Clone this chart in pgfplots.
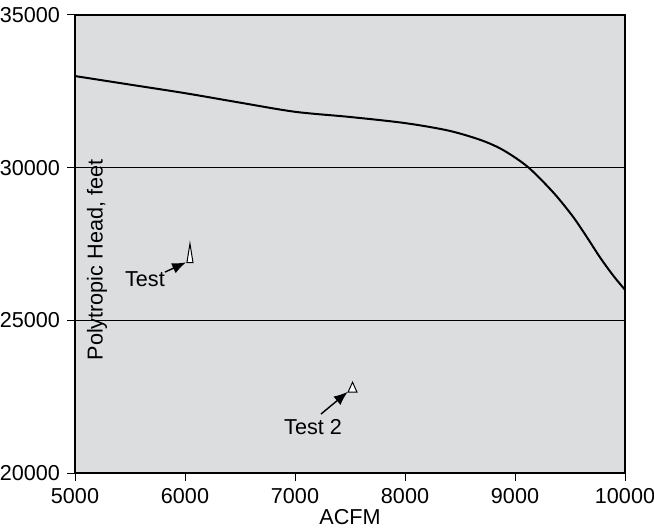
\documentclass[border=0pt]{standalone}
\usepackage{fontspec}
\setmainfont{Liberation Sans}
\usepackage{pgfplots}
\pgfplotsset{compat=1.18}
\usetikzlibrary{arrows.meta}
\definecolor{plotbg}{HTML}{DCDDDF}
\newcommand{\chartfont}{\fontsize{10.8pt}{12pt}\selectfont}

\begin{document}
\begin{tikzpicture}
\begin{axis}[
  scale only axis,
  width=275pt,height=229pt,
  xmin=5000,xmax=10000,ymin=20000,ymax=35000,
  xtick={5000,6000,...,10000},
  ytick={20000,25000,30000,35000},
  scaled ticks=false,
  /pgf/number format/set thousands separator={},
  /pgf/number format/assume math mode=true,
  tick pos=left,
  tick align=outside,
  major tick length=4pt,
  tick style={black,line width=0.5pt},
  axis line style={black,line width=0.6pt},
  axis background/.style={fill=plotbg},
  ymajorgrids=true,
  major grid style={black,line width=0.6pt},
  tick label style={font=\chartfont},
  label style={font=\chartfont},
  xlabel={ACFM},
  xlabel style={at={(axis description cs:0.5,0)},anchor=center,yshift=-22pt},
  ylabel={Polytropic Head, feet},
  ylabel style={at={(axis description cs:0,0.465)},anchor=center,yshift=-11pt},
  clip=false,
]
\addplot[black,line width=1pt,smooth,tension=0.5] coordinates {
  (5000,33000) (5500,32720) (6000,32440) (6500,32130) (7000,31830)
  (7500,31660) (8000,31460) (8400,31210) (8700,30890) (8900,30560)
  (9121,30010) (9350,29180) (9530,28380) (9667,27650) (9773,27060)
  (9894,26460) (10000,26000)};
% Test point (tall narrow marker)
\addplot[only marks,mark=triangle*,mark size=1.75pt,
  mark options={fill=white,draw=black,line width=0.5pt,yscale=3.6}]
  coordinates {(6045,27100)};
% Test 2 point
\addplot[only marks,mark=triangle*,mark size=2.6pt,
  mark options={fill=white,draw=black,line width=0.5pt,yscale=1.28}]
  coordinates {(7523,22755)};
\draw[black,line width=0.7pt,-{Latex[length=7pt,width=5.5pt]}]
  (axis cs:5818,26580) -- (axis cs:6010,26900);
\draw[black,line width=0.7pt,-{Latex[length=7pt,width=5.5pt]}]
  (axis cs:7236,21930) -- (axis cs:7480,22660);
\node[font=\chartfont] at (axis cs:5636,26340) {Test};
\node[font=\chartfont] at (axis cs:7164,21500) {Test 2};
\coordinate (ll) at (rel axis cs:0,0);
\coordinate (ur) at (rel axis cs:1,1);
\end{axis}
\pgfresetboundingbox
\path ([shift={(-37.5pt,-27.5pt)}]ll) rectangle ([shift={(14.5pt,7.5pt)}]ur);
\end{tikzpicture}
\end{document}
